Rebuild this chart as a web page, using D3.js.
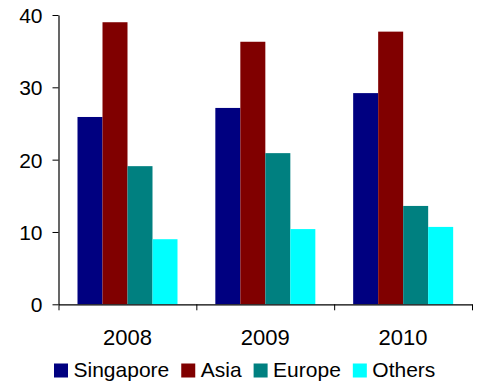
<!DOCTYPE html>
<html>
<head>
<meta charset="utf-8">
<script src="https://cdn.jsdelivr.net/npm/d3@7"></script>
<style>
  html, body { margin: 0; padding: 0; background: #fff; }
  svg { display: block; }
  text { font-family: "Liberation Sans", Arial, sans-serif; fill: #000; }
</style>
</head>
<body>
<svg id="chart" width="477" height="381"></svg>
<script>
// Yearly shares by region
const years = ["2008", "2009", "2010"];
const seriesNames = ["Singapore", "Asia", "Europe", "Others"];
const singapore = [25.9, 27.15, 29.2];
const asia = [39.0, 36.3, 37.7];
const europe = [19.1, 20.9, 13.6];
const others = [9.0, 10.4, 10.7];
const yTicks = [0, 10, 20, 30, 40];
const colors = ["#000080", "#800000", "#008080", "#00FFFF"];

const seriesValues = [singapore, asia, europe, others];
const rows = years.map((y, i) => ({
  year: y,
  values: seriesNames.map((s, k) => ({ key: s, value: seriesValues[k][i] }))
}));

const svg = d3.select("#chart");

const x0 = d3.scaleBand().domain(years).range([58.5, 472]).paddingInner(0).paddingOuter(0);
const x1 = d3.scaleBand().domain(seriesNames).range([19, 119]).padding(0);
const y = d3.scaleLinear().domain([0, 40]).range([304.3, 15]);
const color = d3.scaleOrdinal().domain(seriesNames).range(colors);

// Bars
svg.append("g")
  .selectAll("g")
  .data(rows)
  .join("g")
  .attr("transform", d => `translate(${x0(d.year)},0)`)
  .selectAll("rect")
  .data(d => d.values)
  .join("rect")
  .attr("x", d => x1(d.key))
  .attr("width", x1.bandwidth())
  .attr("y", d => y(d.value))
  .attr("height", d => y(0) - y(d.value))
  .attr("fill", d => color(d.key));

// Y axis
const yAxis = svg.append("g")
  .attr("transform", "translate(58.5,0)")
  .call(d3.axisLeft(y).tickValues(yTicks).tickSize(6).tickPadding(10).tickSizeOuter(0));
yAxis.select(".domain").attr("stroke", "#000").attr("stroke-width", 1.2);
yAxis.selectAll(".tick line").attr("stroke", "#000");
yAxis.selectAll(".tick text")
  .attr("font-size", 21)
  .attr("fill", "#000")
  .attr("dy", "0.36em");

// X axis: ticks sit on category boundaries
const xAxisG = svg.append("g").attr("transform", `translate(0,${y(0)})`);
xAxisG.call(
  d3.axisBottom(d3.scaleLinear().domain([0, years.length]).range(x0.range()))
    .tickValues(d3.range(0, years.length + 1))
    .tickSize(6)
    .tickSizeOuter(0)
    .tickFormat("")
);
xAxisG.select(".domain").attr("stroke", "#000").attr("stroke-width", 1.2);
xAxisG.selectAll(".tick line").attr("stroke", "#000");

// Category labels
svg.append("g")
  .selectAll("text")
  .data(years)
  .join("text")
  .attr("x", d => x0(d) + x0.bandwidth() / 2)
  .attr("y", 345)
  .attr("text-anchor", "middle")
  .attr("font-size", 22)
  .text(d => d);

// Legend
const legend = svg.append("g");
let lx = 54;
seriesNames.forEach(name => {
  legend.append("rect")
    .attr("x", lx).attr("y", 363.5)
    .attr("width", 14).attr("height", 14)
    .attr("fill", color(name));
  const t = legend.append("text")
    .attr("x", lx + 19.5).attr("y", 377)
    .attr("font-size", 21)
    .text(name);
  lx = lx + 19.5 + t.node().getComputedTextLength() + 12;
});
</script>
</body>
</html>
